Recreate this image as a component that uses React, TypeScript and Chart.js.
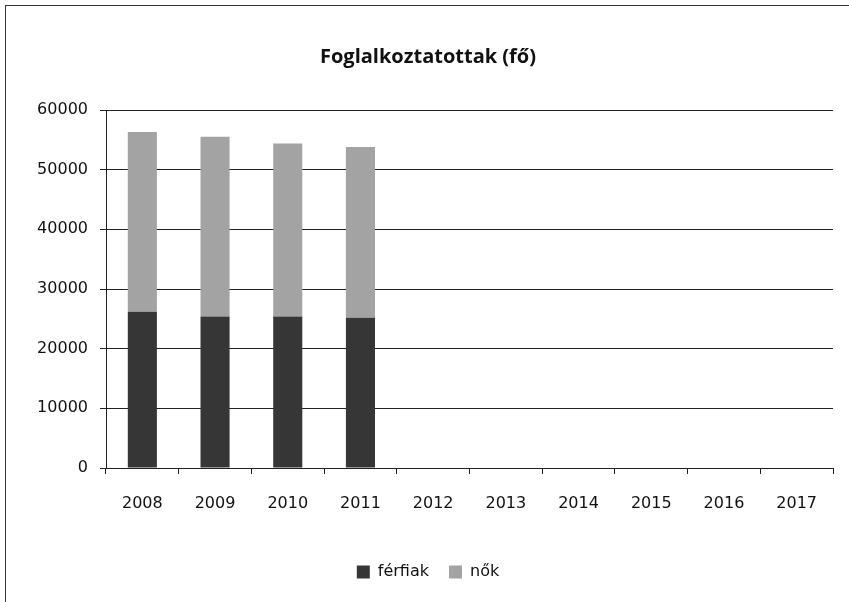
import React, { useEffect, useRef } from "react";
import { Chart, registerables } from "chart.js";

Chart.register(...registerables);

const years = ["2008", "2009", "2010", "2011", "2012", "2013", "2014", "2015", "2016", "2017"];
const ferfiak = [26200, 25400, 25400, 25200, null, null, null, null, null, null];
const nok = [30100, 30100, 29000, 28600, null, null, null, null, null, null];
const titleText = "Foglalkoztatottak (fő)";
const seriesNames = ["férfiak", "nők"];

export default function App() {
  const ref = useRef<HTMLCanvasElement | null>(null);
  useEffect(() => {
    if (!ref.current) return;
    const chart = new Chart(ref.current, {
      type: "bar",
      data: {
        labels: years,
        datasets: [
          { label: seriesNames[0], data: ferfiak as any, backgroundColor: "#363636", barPercentage: 0.4, categoryPercentage: 1 },
          { label: seriesNames[1], data: nok as any, backgroundColor: "#a3a3a3", barPercentage: 0.4, categoryPercentage: 1 },
        ],
      },
      options: {
        responsive: false,
        animation: false,
        layout: { padding: { left: 17, right: 12, top: 0, bottom: 12 } },
        plugins: {
          title: {
            display: true,
            text: titleText,
            color: "#111",
            font: { family: "Open Sans", size: 20, weight: "bold" },
            padding: { top: 39, bottom: 41 },
          },
          legend: {
            position: "bottom",
            labels: {
              color: "#111",
              font: { family: "DejaVu Sans", size: 16 },
              boxWidth: 13,
              boxHeight: 13,
              padding: 20,
            },
          },
          tooltip: { enabled: false },
        },
        scales: {
          x: {
            stacked: true,
            grid: { display: true, drawOnChartArea: false, offset: true, tickLength: 6, color: "#222" },
            border: { color: "#222", width: 1 },
            ticks: { color: "#111", font: { family: "DejaVu Sans", size: 16 }, padding: 20, maxRotation: 0 },
            afterFit: (s: any) => { s.height = 76; },
          },
          y: {
            stacked: true,
            min: 0,
            max: 60000,
            grid: { color: "#222", tickLength: 6 },
            border: { color: "#222", width: 1 },
            ticks: {
              stepSize: 10000,
              color: "#111",
              font: { family: "DejaVu Sans", size: 16 },
              padding: 12,
              callback: (v: any) => String(v),
            },
            afterFit: (s: any) => { s.width = 83; },
          },
        },
      },
    });
    return () => chart.destroy();
  }, []);
  return (
    <div
      style={{
        position: "fixed",
        left: 5,
        top: 5,
        width: 844,
        height: 597,
        boxSizing: "border-box",
        borderLeft: "1px solid #333",
        borderTop: "1px solid #333",
      }}
    >
      <canvas ref={ref} width={839} height={596} style={{ display: "block" }} />
    </div>
  );
}
